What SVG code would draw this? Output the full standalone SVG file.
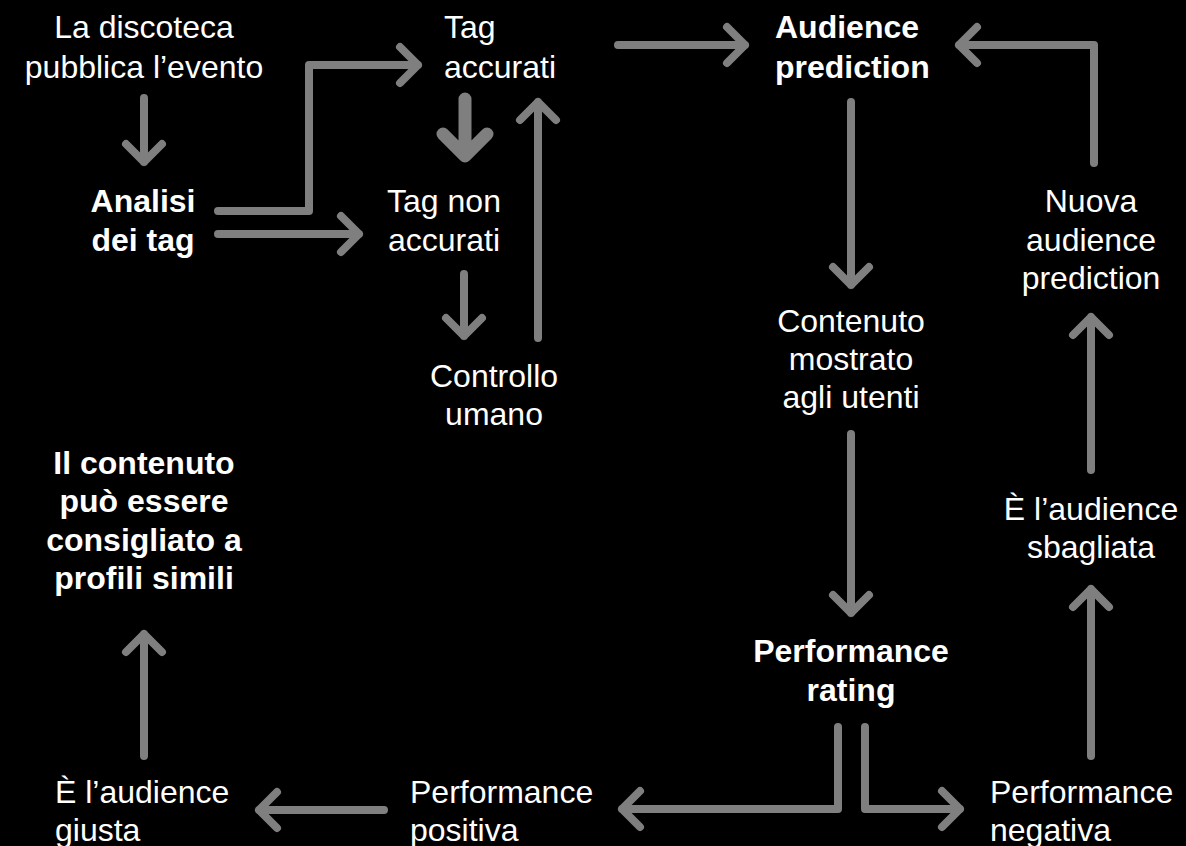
<svg xmlns="http://www.w3.org/2000/svg" width="1186" height="846" viewBox="0 0 1186 846">
<style>
text{font-family:"Liberation Sans",Arial,sans-serif;font-size:32px;fill:#ffffff}
.b{font-weight:bold}
.m{text-anchor:middle}
.c path{fill:none;stroke:#7f7f7f;stroke-width:8;stroke-linecap:round;stroke-linejoin:round}
.c path.t{stroke-width:13}
</style>
<rect width="1186" height="846" fill="#000"/>
<g class="c" id="connectors">
<path d="M144 98V162M126 144L144 162L162 144"/>
<path class="t" d="M465 99V156M443 134L465 156L487 134"/>
<path d="M218 211H309V65H418M400 47L418 65L400 83"/>
<path d="M218 234H359M341 216L359 234L341 252"/>
<path d="M464 274V336M446 318L464 336L482 318"/>
<path d="M538 338V102M520 120L538 102L556 120"/>
<path d="M618 45H745M727 27L745 45L727 63"/>
<path d="M851 102V285M833 267L851 285L869 267"/>
<path d="M1094 163V45H959M977 27L959 45L977 63"/>
<path d="M1091 470V317M1073 335L1091 317L1109 335"/>
<path d="M851 434V613M833 595L851 613L869 595"/>
<path d="M1091 756V589M1073 607L1091 589L1109 607"/>
<path d="M838 727V809H622M640 791L622 809L640 827"/>
<path d="M865 727V809H960M942 791L960 809L942 827"/>
<path d="M384 810H259M277 792L259 810L277 828"/>
<path d="M144 756V634M126 652L144 634L162 652"/>
</g>
<g id="n1"><text class="m" x="144" y="38">La discoteca</text><text class="m" x="144" y="78">pubblica l’evento</text></g>
<g id="n2"><text class="m b" x="143" y="212">Analisi</text><text class="m b" x="143" y="251">dei tag</text></g>
<g id="n3"><text x="444" y="38">Tag</text><text x="444" y="78">accurati</text></g>
<g id="n4"><text class="b" x="775" y="38">Audience</text><text class="b" x="775" y="78">prediction</text></g>
<g id="n5"><text class="m" x="444" y="212">Tag non</text><text class="m" x="444" y="251">accurati</text></g>
<g id="n6"><text class="m" x="494" y="387">Controllo</text><text class="m" x="494" y="425">umano</text></g>
<g id="n7"><text class="m" x="851" y="332">Contenuto</text><text class="m" x="851" y="370">mostrato</text><text class="m" x="851" y="408">agli utenti</text></g>
<g id="n8"><text class="m" x="1091" y="212">Nuova</text><text class="m" x="1091" y="251">audience</text><text class="m" x="1091" y="289">prediction</text></g>
<g id="n9"><text class="m" x="1091" y="520">È l’audience</text><text class="m" x="1091" y="558">sbagliata</text></g>
<g id="n10"><text class="m b" x="851" y="662">Performance</text><text class="m b" x="851" y="701">rating</text></g>
<g id="n11"><text x="410" y="803">Performance</text><text x="410" y="841">positiva</text></g>
<g id="n12"><text x="990" y="803">Performance</text><text x="990" y="841">negativa</text></g>
<g id="n13"><text x="55" y="803">È l’audience</text><text x="55" y="841">giusta</text></g>
<g id="n14"><text class="m b" x="144" y="474">Il contenuto</text><text class="m b" x="144" y="512">può essere</text><text class="m b" x="144" y="551">consigliato a</text><text class="m b" x="144" y="589">profili simili</text></g>
</svg>
